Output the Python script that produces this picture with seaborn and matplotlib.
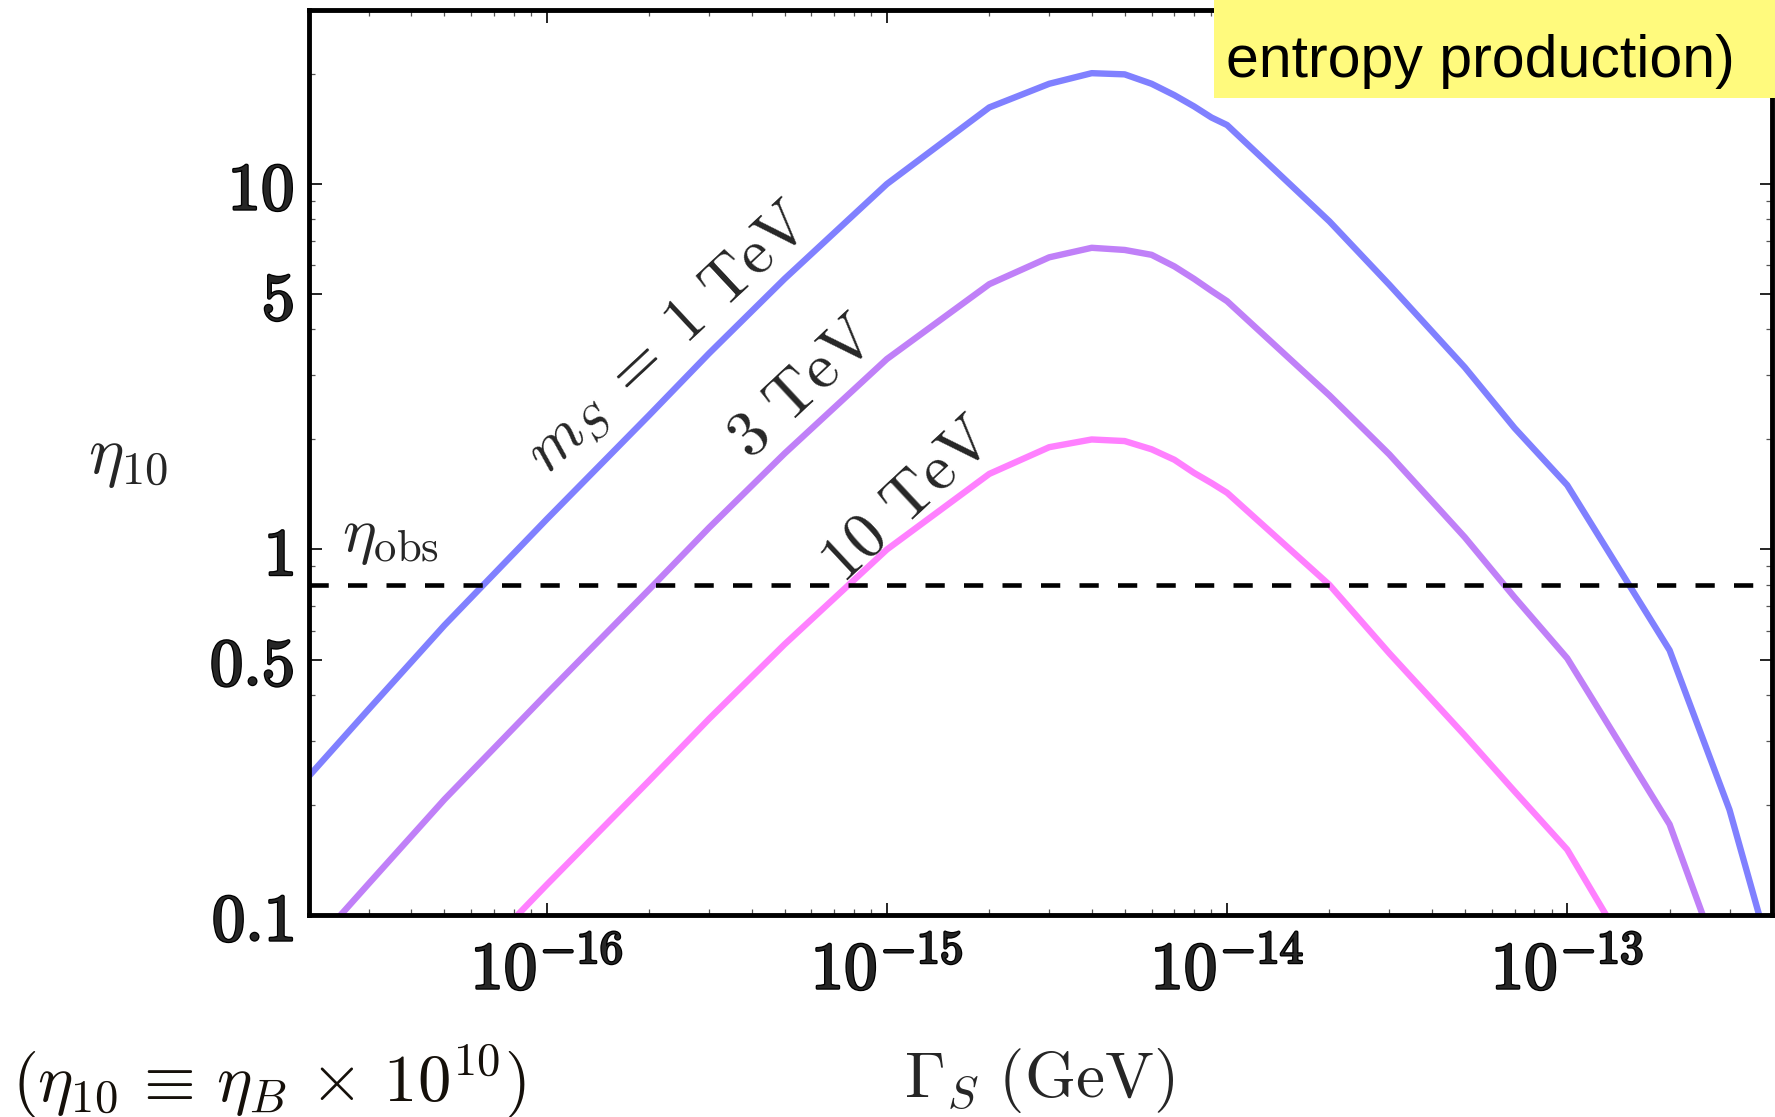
import numpy as np
import pandas as pd
import matplotlib
matplotlib.use("Agg")
import matplotlib.pyplot as plt
import seaborn as sns
from matplotlib.ticker import LogLocator, NullFormatter
from matplotlib.patches import Rectangle
import matplotlib.patheffects as pe

# ---------------- data ----------------
gamma_s = [2e-17, 3e-17, 5e-17, 1e-16, 2e-16, 3e-16, 5e-16, 1e-15, 2e-15, 3e-15,
           4e-15, 5e-15, 6e-15, 7e-15, 8e-15, 9e-15, 1e-14, 2e-14, 3e-14, 5e-14,
           7e-14, 1e-13, 2e-13, 3e-13, 4e-13]
eta_1tev = [0.24, 0.366, 0.62, 1.21, 2.33, 3.44, 5.5, 10.0, 16.2, 18.8,
            20.1, 19.95, 18.8, 17.5, 16.3, 15.2, 14.5, 7.9, 5.3, 3.15,
            2.15, 1.50, 0.53, 0.194, 0.075]
eta_3tev = [0.08, 0.122, 0.207, 0.403, 0.777, 1.147, 1.83, 3.32, 5.32, 6.3,
            6.69, 6.6, 6.4, 5.95, 5.5, 5.1, 4.78, 2.64, 1.82, 1.08,
            0.74, 0.504, 0.177, 0.063, 0.03]
eta_10tev = [0.024, 0.037, 0.062, 0.121, 0.233, 0.344, 0.55, 1.0, 1.61, 1.905,
             2.0, 1.98, 1.88, 1.76, 1.62, 1.52, 1.43, 0.80, 0.52, 0.31,
             0.218, 0.151, 0.051, 0.02, 0.01]
masses = ["1 TeV", "3 TeV", "10 TeV"]
eta_obs = 0.8
y_ticks = [0.1, 0.5, 1, 5, 10]
y_ticklabels = ["0.1", "0.5", "1", "5", "10"]
x_ticks = [1e-16, 1e-15, 1e-14, 1e-13]
x_exponents = ["-16", "-15", "-14", "-13"]

colors = {"1 TeV": "#8080ff", "3 TeV": "#c080f8", "10 TeV": "#ff80ff"}

df = pd.DataFrame({
    "gamma": gamma_s * 3,
    "eta": eta_1tev + eta_3tev + eta_10tev,
    "mass": [masses[0]] * len(gamma_s) + [masses[1]] * len(gamma_s) + [masses[2]] * len(gamma_s),
})

# ---------------- style ----------------
sns.set_style("ticks")
plt.rcParams["mathtext.fontset"] = "cm"
plt.rcParams["font.family"] = ["DejaVu Serif"]

fig = plt.figure(figsize=(17.75, 11.17), dpi=100)
ax = fig.add_axes([309 / 1775, 1 - 915 / 1117, (1772 - 309) / 1775, (915 - 9.6) / 1117])

sns.lineplot(data=df, x="gamma", y="eta", hue="mass", palette=colors, sort=False,
             linewidth=4.6, legend=False, ax=ax)
ax.set_xscale("log")
ax.set_yscale("log")

ax.axhline(eta_obs, color="black", lw=3.3, dashes=(4.2, 4.2), zorder=5)

bold = [pe.withStroke(linewidth=1.9, foreground="black")]

# ticks
ax.set_yticks(y_ticks, [r"$%s$" % s for s in y_ticklabels], fontsize=48, path_effects=bold)
ax.yaxis.set_minor_locator(LogLocator(base=10, subs=np.arange(2, 10), numticks=20))
ax.yaxis.set_minor_formatter(NullFormatter())
ax.set_xticks(x_ticks, [r"$10^{%s}$" % e for e in x_exponents], fontsize=48, path_effects=bold)
ax.xaxis.set_minor_locator(LogLocator(base=10, subs=np.arange(2, 10), numticks=20))
ax.xaxis.set_minor_formatter(NullFormatter())
ax.set_xlim(2e-17, 4e-13)
ax.set_ylim(0.1, 30)

ax.tick_params(which="both", direction="in", top=True, right=True)
ax.tick_params(which="major", length=9, width=1.2, color="black")
ax.tick_params(axis="y", which="major", pad=11)
ax.tick_params(axis="x", which="major", pad=16)
ax.tick_params(which="minor", length=4.5, width=0.9, color="#555555")

for sp in ax.spines.values():
    sp.set_linewidth(3.5)
    sp.set_color("black")

# axis labels
ax.set_xlabel(r"$\Gamma_S\ (\mathrm{GeV})$", fontsize=47)
ax.xaxis.set_label_coords(0.499, -0.183)
ax.xaxis.label.set_va("center")
ax.set_ylabel(r"$\eta_{10}$", fontsize=48, rotation=0)
ax.yaxis.set_label_coords(-0.1237, 0.506)
ax.yaxis.label.set_va("center")
ax.yaxis.label.set_ha("center")

# annotations
ax.text(2.5e-17, 0.99, r"$\eta_{\rm obs}$", fontsize=46, ha="left", va="baseline")
ax.text(2.3e-16, 3.75, r"$m_S\;=\;1\ \mathrm{TeV}$", fontsize=46, rotation=43,
        rotation_mode="anchor", ha="center", va="center")
ax.text(5.66e-16, 2.78, r"$3\ \mathrm{TeV}$", fontsize=47, rotation=43,
        rotation_mode="anchor", ha="center", va="center")
ax.text(1.15e-15, 1.37, r"$10\ \mathrm{TeV}$", fontsize=47, rotation=43,
        rotation_mode="anchor", ha="center", va="center")

fig.text(12 / 1775, 1 - 1102 / 1117,
         r"$(\eta_{10}\,\equiv\,\eta_B\,\times\,10^{10})$",
         fontsize=48, ha="left", va="baseline", color="#15100a")

# yellow note box
fig.add_artist(Rectangle((1214 / 1775, 1 - 98 / 1117), 1 - 1214 / 1775, 98 / 1117,
                         transform=fig.transFigure, facecolor="#fffa7d",
                         edgecolor="none", zorder=20))
fig.text(1226 / 1775, 1 - 77 / 1117, "entropy production)", fontsize=42.5,
         family=["Liberation Sans", "DejaVu Sans"], ha="left", va="baseline",
         color="black", zorder=21)

fig.savefig("out.png", dpi=100)
